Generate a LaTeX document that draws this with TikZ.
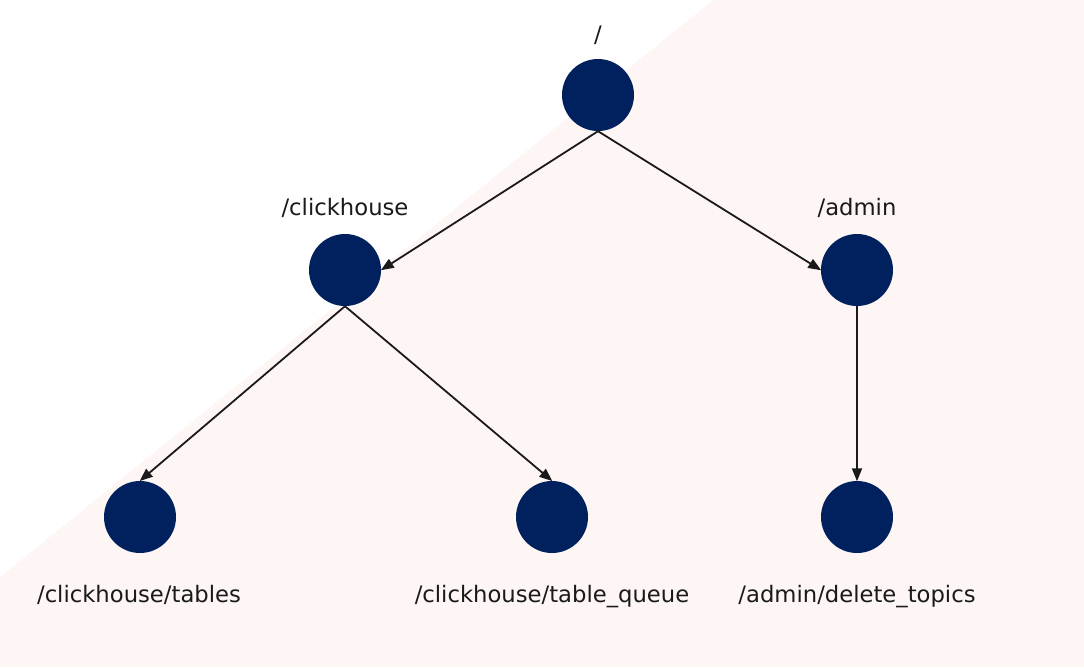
\documentclass[tikz,border=0pt]{standalone}
\usepackage{fontspec}
\setmainfont{DejaVu Sans}
\usetikzlibrary{arrows.meta}
\definecolor{navy}{HTML}{00215D}
\definecolor{bgpink}{HTML}{FEF6F5}
\definecolor{ink}{HTML}{1A1A1A}
\tikzset{
  dot/.style={circle,fill=navy,draw=none,minimum size=72pt,inner sep=0pt},
  lbl/.style={text=ink,font=\fontsize{22.7}{26}\selectfont,inner sep=0pt,anchor=base},
  edge/.style={draw=ink,line width=1.8pt,-{Triangle[length=13pt,width=10pt]},shorten >=-0.5pt}
}
\begin{document}
\begin{tikzpicture}[x=1pt,y=-1pt]
\useasboundingbox (0,0) rectangle (1084,667);
\fill[bgpink] (0,0) rectangle (1084,667);
\fill[white] (0,0) -- (713,0) -- (0,577) -- cycle;
\node[dot] (root) at (598,95) {};
\node[dot] (ch) at (345,270) {};
\node[dot] (ad) at (857,270) {};
\node[dot] (tb) at (140,517) {};
\node[dot] (tq) at (552,517) {};
\node[dot] (dt) at (857,517) {};
\node[lbl] (lroot) at (598,42) {/};
\node[lbl] (lch) at (345,215) {/clickhouse};
\node[lbl] (lad) at (857,215) {/admin};
\node[lbl] (ltb) at (139,602) {/clickhouse/tables};
\node[lbl] (ltq) at (552,602) {/clickhouse/table\_queue};
\node[lbl] (ldt) at (857,602) {/admin/delete\_topics};
\draw[edge] (root.south) -- (ch.east);
\draw[edge] (root.south) -- (ad.west);
\draw[edge] (ch.south) -- (tb.north);
\draw[edge] (ch.south) -- (tq.north);
\draw[edge] (ad.south) -- (dt.north);
\end{tikzpicture}
\end{document}
